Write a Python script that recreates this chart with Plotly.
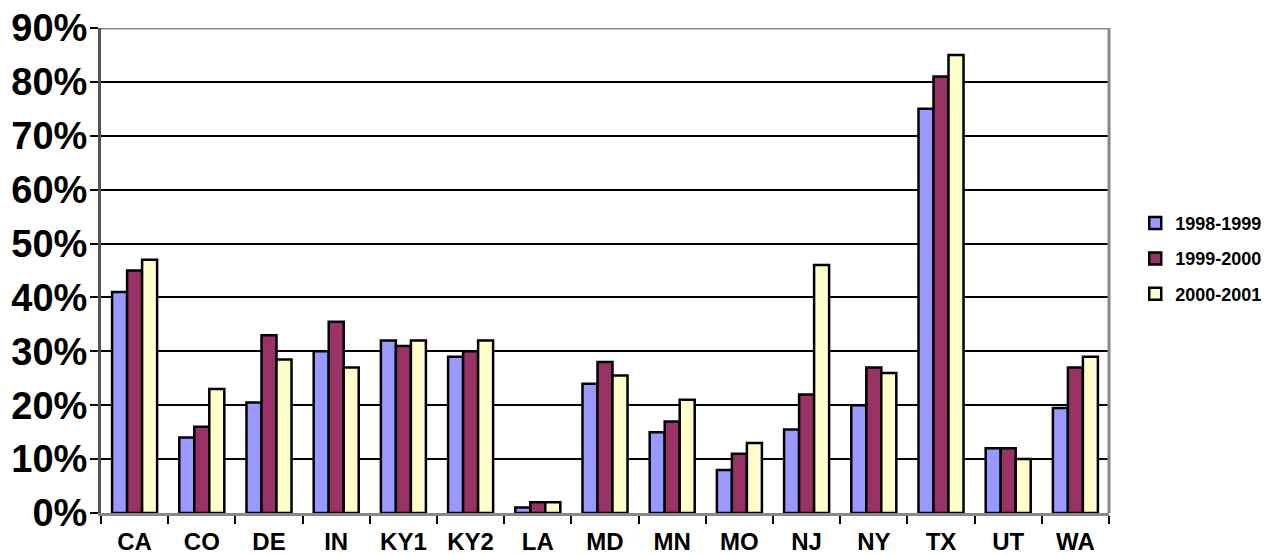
import plotly.graph_objects as go

categories = ["CA", "CO", "DE", "IN", "KY1", "KY2", "LA", "MD", "MN", "MO", "NJ", "NY", "TX", "UT", "WA"]
s1998 = [41, 14, 20.5, 30, 32, 29, 1, 24, 15, 8, 15.5, 20, 75, 12, 19.5]
s1999 = [45, 16, 33, 35.5, 31, 30, 2, 28, 17, 11, 22, 27, 81, 12, 27]
s2000 = [47, 23, 28.5, 27, 32, 32, 2, 25.5, 21, 13, 46, 26, 85, 10, 29]
series_names = ["1998-1999", "1999-2000", "2000-2001"]
colors = ["#9999FF", "#993366", "#FFFFCC"]
ytick_vals = [0, 10, 20, 30, 40, 50, 60, 70, 80, 90]
ytick_text = [f"{v}%" for v in ytick_vals]

FONT = "Liberation Sans, Arial, sans-serif"

fig = go.Figure()
for i, (name, vals) in enumerate(zip(series_names, [s1998, s1999, s2000])):
    fig.add_trace(go.Bar(
        x=categories, y=vals, name=name, legendgroup=name,
        marker=dict(color=colors[i], line=dict(color="black", width=2.5)),
    ))

fig.update_layout(
    width=1278, height=555,
    margin=dict(l=101, r=168, t=28, b=42),
    paper_bgcolor="white", plot_bgcolor="white",
    barmode="group", bargap=0.33, bargroupgap=0,
    font=dict(family=FONT, color="black"),
    legend=dict(
        x=1.025, y=0.524, xanchor="left", yanchor="middle",
        font=dict(family=FONT, size=18, color="black", weight="bold"),
        tracegroupgap=9, itemwidth=30,
    ),
    showlegend=True,
)
fig.update_yaxes(
    range=[0, 90], tickvals=ytick_vals, ticktext=ytick_text,
    showgrid=True, gridcolor="black", gridwidth=2,
    ticks="outside", ticklen=8, tickwidth=2, tickcolor="black",
    showline=True, linecolor="#555555", linewidth=3,
    tickfont=dict(family=FONT, size=38, color="black", weight="bold"),
    ticklabelstandoff=-5,
    zeroline=False, mirror=False, automargin=False,
)
fig.update_xaxes(
    tickson="boundaries", ticks="outside", ticklen=8, tickwidth=2, tickcolor="black",
    showline=True, linecolor="#888888", linewidth=3,
    tickfont=dict(family=FONT, size=24, color="black", weight="bold"),
    ticklabelstandoff=5,
    showgrid=False, automargin=False,
)
# top border of back wall
fig.add_shape(type="line", xref="paper", yref="y", x0=0, x1=1, y0=90, y1=90,
              line=dict(color="#888888", width=3))
fig.add_shape(type="line", xref="paper", yref="paper", x0=1, x1=1, y0=0, y1=1,
              line=dict(color="#888888", width=3))

fig.write_html("out.html", config={"displayModeBar": False},
               post_script="document.body.style.margin='0px';")
